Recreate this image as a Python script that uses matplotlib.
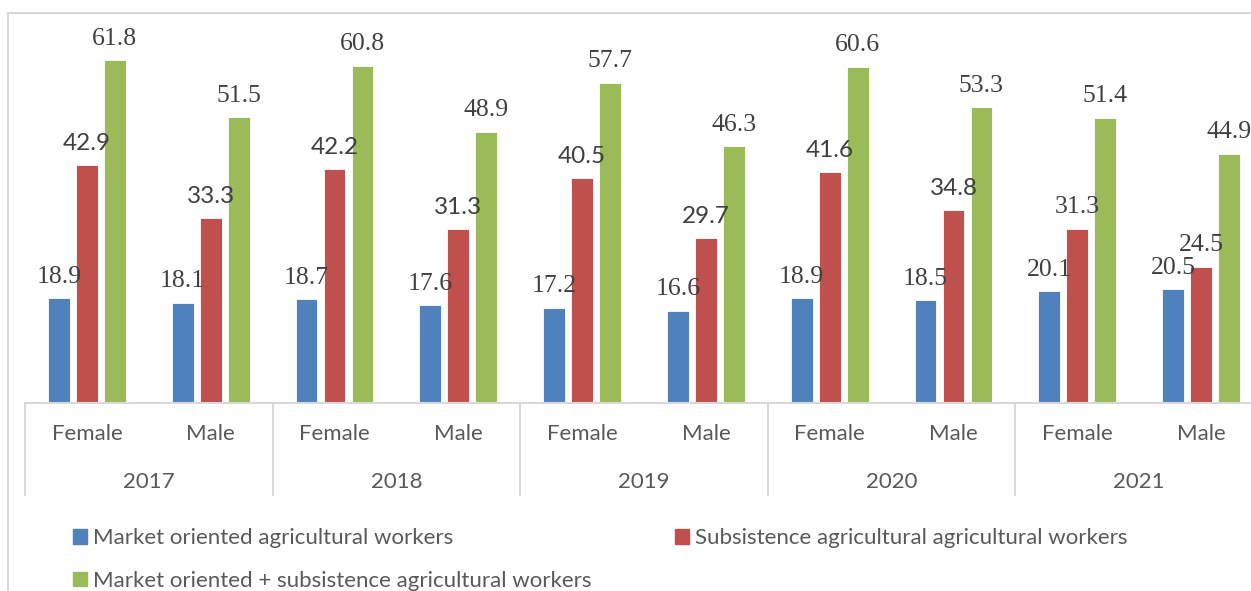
"""Grouped bar chart: agricultural workers by sex and year."""

import matplotlib
matplotlib.use("Agg")
import matplotlib.pyplot as plt
import matplotlib.transforms as mtransforms
from matplotlib.lines import Line2D
from matplotlib.patches import Patch

years = ["2017", "2018", "2019", "2020", "2021"]
sexes = ["Female", "Male"]
market = [18.9, 18.1, 18.7, 17.6, 17.2, 16.6, 18.9, 18.5, 20.1, 20.5]
subsistence = [42.9, 33.3, 42.2, 31.3, 40.5, 29.7, 41.6, 34.8, 31.3, 24.5]
combined = [61.8, 51.5, 60.8, 48.9, 57.7, 46.3, 60.6, 53.3, 51.4, 44.9]
series_names = [
    "Market oriented agricultural workers",
    "Subsistence agricultural agricultural workers",
    "Market oriented + subsistence agricultural workers",
]

BLUE, RED, GREEN = "#4F81BD", "#C0504D", "#9BBB59"
GRID = "#D9D9D9"
TXT = "#595959"
LBL = "#404040"
SANS = ["Lato", "DejaVu Sans"]
SERIF = ["Liberation Serif", "DejaVu Serif"]

W, H = 1251, 591
fig = plt.figure(figsize=(W / 100, H / 100), dpi=100)

# plot area runs past the right edge, as in the cropped original
ax = fig.add_axes([25 / W, 188 / H, 1238 / W, 388.5 / H])
ax.set_xlim(-0.5, 9.5)
ax.set_ylim(0, 70)

x = list(range(len(market)))
off, bw = 0.226, 0.177
ax.bar([i - off for i in x], market, bw, color=BLUE, edgecolor="white", linewidth=0.6)
ax.bar(x, subsistence, bw, color=RED, edgecolor="white", linewidth=0.6)
ax.bar([i + off for i in x], combined, bw, color=GREEN, edgecolor="white", linewidth=0.6)

# data labels (the 2021 red labels came out in the serif face in the original)
for i in x:
    ax.annotate(f"{market[i]:.1f}", (i - off, market[i]), xytext=(0, 7.5), textcoords="offset points",
                ha="center", va="bottom", fontsize=18.5, family=SERIF, color=LBL)
    red_serif = i >= 8
    ax.annotate(f"{subsistence[i]:.1f}", (i, subsistence[i]), xytext=(0, 8), textcoords="offset points",
                ha="center", va="bottom", fontsize=17.5 if not red_serif else 18.5,
                family=SERIF if red_serif else SANS, color=LBL)
    ax.annotate(f"{combined[i]:.1f}", (i + off, combined[i]), xytext=(0, 7.5), textcoords="offset points",
                ha="center", va="bottom", fontsize=18.5, family=SERIF, color=LBL)

for s in ["top", "right", "left"]:
    ax.spines[s].set_visible(False)
ax.spines["bottom"].set_color(GRID)
ax.spines["bottom"].set_linewidth(1.5)
ax.set_yticks([])
ax.set_xticks([])

# two-level category axis
trans = mtransforms.blended_transform_factory(ax.transData, ax.transAxes)
px = 1 / 388.5
for i in x:
    ax.text(i, -31 * px, sexes[i % 2], transform=trans, ha="center", va="center",
            fontsize=16, family=SANS, color=TXT)
for k, yr in enumerate(years):
    ax.text(2 * k + 0.5, -79 * px, yr, transform=trans, ha="center", va="center",
            fontsize=16, family=SANS, color=TXT)
for k in range(len(years) + 1):
    ax.add_line(Line2D([2 * k - 0.5] * 2, [0, -92 * px], transform=trans, color=GRID,
                       linewidth=1.5, clip_on=False))

# chart border
fig.add_artist(Line2D([8 / W, 8 / W], [0, 1 - 13 / H], transform=fig.transFigure, color=GRID, linewidth=1.5))
fig.add_artist(Line2D([8 / W, 1], [1 - 13 / H] * 2, transform=fig.transFigure, color=GRID, linewidth=1.5))

handles = [Patch(color=BLUE), Patch(color=GREEN), Patch(color=RED)]
labels = [series_names[0], series_names[2], series_names[1]]
fig.legend(handles, labels, ncol=2, loc="upper left", bbox_to_anchor=(62 / W, 1 - 517 / H),
           frameon=False, handlelength=0.63, handleheight=0.63, handletextpad=0.27,
           columnspacing=3.75, labelspacing=1.03, borderpad=0,
           prop={"family": SANS, "size": 16}, labelcolor=TXT)

fig.savefig("out.png", dpi=100)
